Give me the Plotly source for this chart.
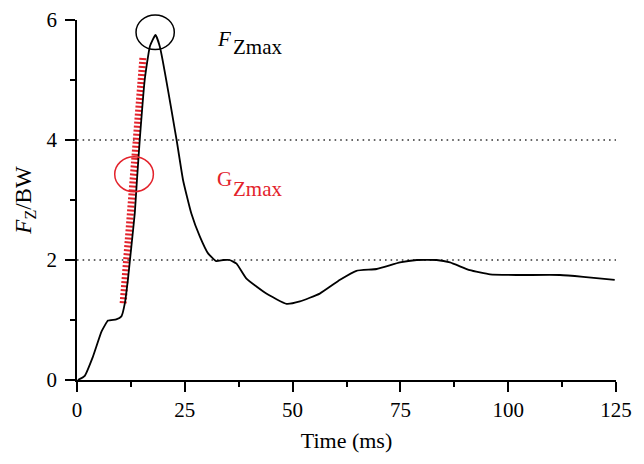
import plotly.graph_objects as go

# Vertical ground reaction force curve (Fz/BW) vs time (ms)
time_ms = [0.2, 1.8, 3.7, 5.7, 7.2, 9.1, 10.3, 11.1, 11.8, 12.6, 13.4, 13.9, 14.55, 15.7, 16.9,
           18.2, 19.2, 23.1, 24.6, 26.5, 28.5, 30.4, 32.3, 33.9, 35.4, 37.0, 39.3, 43.9, 48.6,
           51.7, 56.3, 61.0, 64.8, 69.5, 74.9, 78.8, 83.4, 86.5, 91.1, 95.8, 102.0, 112.0, 117.4, 124.7]
fz_bw = [0.0, 0.07, 0.39, 0.81, 0.99, 1.01, 1.06, 1.28, 1.67, 2.22, 2.78, 3.33, 4.0, 5.0, 5.56,
         5.75, 5.56, 4.0, 3.33, 2.78, 2.39, 2.11, 1.98, 2.0, 2.0, 1.94, 1.69, 1.44, 1.27,
         1.31, 1.44, 1.67, 1.82, 1.85, 1.96, 2.0, 2.0, 1.96, 1.83, 1.76, 1.75, 1.75, 1.72, 1.67]

# Loading-rate (G_Zmax) hatched line endpoints
grad_time = [10.7, 15.3]
grad_fz = [1.28, 5.39]

x_ticks = [0, 25, 50, 75, 100, 125]
x_minor = [12.5, 37.5, 62.5, 87.5, 112.5]
y_ticks = [0, 2, 4, 6]
y_minor = [1, 3, 5]
ref_levels = [2, 4]

RED = "#e3222b"
FONT = "Liberation Serif"

fig = go.Figure()
fig.add_trace(go.Scatter(
    x=grad_time, y=grad_fz, mode="lines",
    line=dict(color=RED, width=7, dash="2px,2px"),
    hoverinfo="skip", showlegend=False))
fig.add_trace(go.Scatter(
    x=time_ms, y=fz_bw, mode="lines",
    line=dict(color="black", width=1.8, shape="spline", smoothing=0.4),
    showlegend=False))

for lv in ref_levels:
    fig.add_shape(type="line", xref="paper", x0=0, x1=1, yref="y", y0=lv, y1=lv,
                  line=dict(color="#333333", width=1.6, dash="1.6px,4px"), layer="below")

# circles (paper coordinates)
fig.add_shape(type="circle", xref="paper", yref="paper",
              x0=0.1095, x1=0.1805, y0=0.918, y1=1.014,
              line=dict(color="black", width=1.5))
fig.add_shape(type="circle", xref="paper", yref="paper",
              x0=0.070, x1=0.1417, y0=0.523, y1=0.620,
              line=dict(color=RED, width=1.5))

def px2paper(px, py):
    return (px - 77.3) / 538.7, (380 - py) / 360

annos = [
    ("<i>F</i>", 224, 38.5, 21, "black"),
    ("Zmax", 258, 47.5, 21, "black"),
    ("G", 224.5, 179, 21, RED),
    ("Zmax", 258, 189, 21, RED),
]
for txt, px, py, sz, col in annos:
    ax_, ay_ = px2paper(px, py)
    fig.add_annotation(text=txt, xref="paper", yref="paper", x=ax_, y=ay_,
                       xanchor="center", yanchor="middle", showarrow=False,
                       font=dict(family=FONT, size=sz, color=col))

# page body adds an 8px offset, so the figure is sized to fit inside it
fig.update_layout(
    width=636, height=456,
    margin=dict(l=69, r=28, t=12, b=84),
    paper_bgcolor="white", plot_bgcolor="white",
    font=dict(family=FONT, size=21, color="black"),
    xaxis=dict(range=[0, 125], tickvals=x_ticks, ticks="outside", ticklen=10, tickwidth=1.5,
               tickcolor="black", showline=True, linecolor="black", linewidth=1.5,
               showgrid=False, zeroline=False, automargin=False,
               minor=dict(tickvals=x_minor, ticks="outside", ticklen=5,
                          tickwidth=1.5, tickcolor="black"),
               title=dict(text="Time (ms)", font=dict(size=22), standoff=12),
               tickfont=dict(size=21)),
    yaxis=dict(range=[0, 6], tickvals=y_ticks, ticks="outside", ticklen=10, tickwidth=1.5,
               tickcolor="black", showline=True, linecolor="black", linewidth=1.5,
               showgrid=False, zeroline=False, automargin=False, ticklabelstandoff=4,
               minor=dict(tickvals=y_minor, ticks="outside", ticklen=5,
                          tickwidth=1.5, tickcolor="black"),
               title=dict(text="<i>F</i><sub>Z</sub>/BW", font=dict(size=23), standoff=8),
               tickfont=dict(size=21)),
)

fig.write_html("out.html")
